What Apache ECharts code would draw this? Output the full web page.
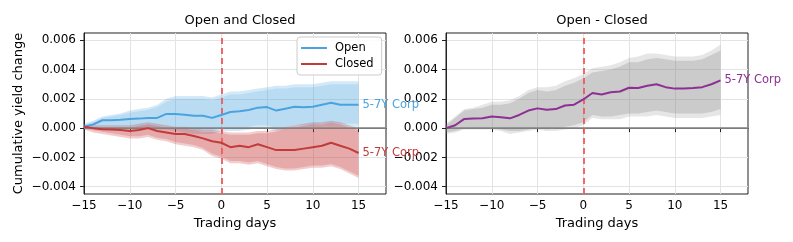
<!DOCTYPE html>
<html><head><meta charset="utf-8">
<script src="https://cdn.jsdelivr.net/npm/echarts@6/dist/echarts.min.js"></script>
<style>html,body{margin:0;padding:0;background:#fff}#c{width:793px;height:242px}</style>
</head><body><div id="c"></div>
<script>
// ---- data ----
const axisDays = [-15,-14,-13,-12,-11,-10,-9,-8,-7,-6,-5,-4,-3,-2,-1,0,1,2,3,4,5,6,7,8,9,10,11,12,13,14,15,16,17,18];
const xTickLabels = [-15,-10,-5,0,5,10,15];
const yTicks = [-0.004,-0.002,0,0.002,0.004,0.006];

const openMean = [0.0001,0.00025,0.00054,0.00054,0.00058,0.00063,0.00065,0.0007,0.0007,0.00097,0.00097,0.00092,0.00085,0.00085,0.0007,0.0009,0.0011,0.00115,0.00124,0.0014,0.00144,0.0012,0.00133,0.00146,0.00142,0.00146,0.0016,0.00173,0.0016,0.0016,0.0016];
const openHi95 = [0.0003,0.0005,0.0008,0.0009,0.0010,0.0012,0.0013,0.0014,0.0016,0.0020,0.0022,0.0022,0.0022,0.0022,0.0021,0.0023,0.0025,0.0025,0.0026,0.0027,0.0028,0.0029,0.0029,0.0030,0.0030,0.0030,0.0031,0.0032,0.0032,0.0032,0.0032];
const openHi90 = [0.00025,0.0004,0.0007,0.0008,0.0009,0.00105,0.00115,0.00125,0.00145,0.0018,0.002,0.002,0.002,0.002,0.0019,0.0021,0.0023,0.0023,0.0024,0.0025,0.0026,0.0027,0.0027,0.0028,0.0028,0.0028,0.0029,0.003,0.003,0.003,0.003];
const openLo95 = [-0.0001,-0.0001,0.0,0.0,0.0,0.0,0.0,0.0,-0.0001,-0.0001,-0.0002,-0.0003,-0.0004,-0.0004,-0.0004,-0.0002,-0.0002,-0.0002,-0.0001,0.0,0.0,-0.0002,-0.0001,0.0,0.0,0.0,0.0001,0.0001,0.0001,0.0001,0.0001];
const openLo90 = [-0.00005,-0.00005,0.0001,0.0001,0.0001,0.0001,0.0001,0.0001,0.0001,0.0001,0.0,-0.0001,-0.0002,-0.0002,-0.0002,0.0,0.0,0.0,0.0001,0.0002,0.0002,0.0,0.0001,0.0002,0.0002,0.0002,0.0003,0.0003,0.0003,0.0003,0.0003];

const closedMean = [0.0001,0.0,-0.00007,-0.0001,-0.00013,-0.0002,-0.00013,0.0,-0.0002,-0.0003,-0.0004,-0.0004,-0.00054,-0.0007,-0.0009,-0.001,-0.0013,-0.0012,-0.0013,-0.0011,-0.0013,-0.0015,-0.0015,-0.0015,-0.0014,-0.0013,-0.0012,-0.001,-0.0012,-0.0014,-0.0017];
const closedHi95 = [0.0002,0.0002,0.0002,0.0002,0.0002,0.0002,0.0003,0.0004,0.0003,0.0002,0.0001,0.0001,0.0,-0.0001,-0.0001,-0.0002,-0.0003,-0.0003,-0.0003,-0.0002,-0.0002,-0.0001,0.0001,0.0002,0.0003,0.0004,0.0004,0.0005,0.0004,0.0002,0.0];
const closedHi90 = [0.0001,0.00005,0.00005,0.00005,0.00005,0.00005,0.00015,0.00025,0.00015,0.00005,-0.00005,-0.00005,-0.00015,-0.00025,-0.00025,-0.00035,-0.00045,-0.00045,-0.00045,-0.00035,-0.00035,-0.00025,-0.00005,0.00005,0.00015,0.00025,0.00025,0.00035,0.00025,0.00005,-0.00015];
const closedLo95 = [-0.0001,-0.0003,-0.0004,-0.0005,-0.0006,-0.0007,-0.0007,-0.0006,-0.0008,-0.0009,-0.0011,-0.0012,-0.0013,-0.0015,-0.0019,-0.0021,-0.0024,-0.0024,-0.0025,-0.0024,-0.0026,-0.0028,-0.0029,-0.0029,-0.0028,-0.0027,-0.0027,-0.0026,-0.0028,-0.0031,-0.0034];
const closedLo90 = [0.0,-0.00015,-0.00025,-0.00035,-0.00045,-0.00055,-0.00055,-0.00045,-0.00065,-0.00075,-0.00095,-0.00105,-0.00115,-0.00135,-0.00175,-0.00195,-0.00225,-0.00225,-0.00235,-0.00225,-0.00245,-0.00265,-0.00275,-0.00275,-0.00265,-0.00255,-0.00255,-0.00245,-0.00265,-0.00295,-0.00325];

const diffMean = [0,0.0002,0.00063,0.00065,0.00067,0.00079,0.00074,0.00067,0.0009,0.0012,0.00135,0.00126,0.0013,0.00155,0.0016,0.00196,0.0024,0.0023,0.00245,0.0025,0.00276,0.00274,0.0029,0.003,0.0028,0.0027,0.0027,0.00274,0.0028,0.003,0.00326];
const diffHi95 = [0.0003,0.0008,0.0013,0.0014,0.0016,0.0018,0.0018,0.0019,0.0022,0.0026,0.0028,0.0028,0.0029,0.0032,0.0034,0.0037,0.0041,0.0042,0.0043,0.0045,0.0048,0.0049,0.0051,0.0051,0.0050,0.0049,0.0049,0.0049,0.0050,0.0053,0.0057];
const diffHi90 = [0.0002,0.0007,0.0012,0.0013,0.0014,0.0016,0.0016,0.0017,0.0020,0.0024,0.0026,0.0025,0.0026,0.0029,0.0031,0.0034,0.0038,0.0039,0.0040,0.0042,0.0045,0.0045,0.0047,0.0048,0.0047,0.0046,0.0046,0.0046,0.0047,0.0050,0.0053];
const diffLo95 = [-0.0004,-0.0003,-0.0001,-0.0001,-0.0001,-0.0001,-0.0002,-0.0004,-0.0003,-0.0002,-0.0001,-0.0002,-0.0002,-0.0001,0.0,0.0002,0.0007,0.0006,0.0006,0.0006,0.0008,0.0008,0.0008,0.0009,0.0008,0.0007,0.0007,0.0007,0.0007,0.0008,0.0009];
const diffLo90 = [-0.0003,-0.0002,0.0,0.0,0.0,0.0,-0.0001,-0.0002,-0.0002,-0.0001,0.0,-0.0001,0.0,0.0001,0.0002,0.0004,0.0009,0.0008,0.0008,0.0009,0.0010,0.0010,0.0011,0.0012,0.0011,0.0010,0.0010,0.0010,0.0010,0.0011,0.0013];

// ---- chart ----
const FONT = 'DejaVu Sans';
const minus = s => String(s).replace('-', '\u2212');

function band(id, ax, lower, upper, color, z) {
  const common = {type:'line', xAxisIndex:ax, yAxisIndex:ax, stack:id, stackStrategy:'all',
    symbol:'none', showSymbol:false, silent:true, lineStyle:{opacity:0, width:0}, z:z, animation:false};
  return [
    Object.assign({name:id+'_lo', data: lower.slice()}, common),
    Object.assign({name:id+'_hi', data: upper.map((u,i)=>u-lower[i]), areaStyle:{color:color, opacity:1}}, common)
  ];
}

function meanLine(name, ax, data, color) {
  return {type:'line', name:name, xAxisIndex:ax, yAxisIndex:ax, data:data, symbol:'none', showSymbol:false,
    lineStyle:{color:color, width:2}, itemStyle:{color:color}, z:5, animation:false,
    endLabel:{show:true, formatter:'5-7Y Corp', color:color, fontFamily:FONT, fontSize:11.5, distance:4}};
}

function refLines(ax) {
  return {type:'line', name:'ref'+ax, xAxisIndex:ax, yAxisIndex:ax, data:[], silent:true, z:4, animation:false,
    markLine:{silent:true, symbol:'none', animation:false, label:{show:false},
      data:[
        {yAxis:0, lineStyle:{color:'#8c8c8c', width:2, type:'solid', opacity:0.85}},
        {xAxis:15, lineStyle:{color:'#f05a5a', width:2, type:[6,4], opacity:0.9}}
      ]}};
}

function xAx(idx) {
  return {type:'category', gridIndex:idx, data:axisDays.map(String), boundaryGap:false,
    axisLine:{show:true, lineStyle:{color:'#222', width:1}},
    axisTick:{show:true, interval:4, length:4, lineStyle:{color:'#222'}},
    axisLabel:{interval:4, color:'#000', fontFamily:FONT, fontSize:12, margin:6, formatter:v=>minus(v)},
    splitLine:{show:true, interval:4, lineStyle:{color:'#e3e3e3', width:1}},
    name:'Trading days', nameLocation:'middle', nameGap:22,
    nameTextStyle:{color:'#000', fontFamily:FONT, fontSize:13}};
}
function yAx(idx, name) {
  return {type:'value', gridIndex:idx, min:-0.0045, max:0.0065, interval:0.0005,
    axisLine:{show:true, lineStyle:{color:'#222', width:1}},
    axisTick:{show:true, length:4, lineStyle:{color:'#222'}, customValues:yTicks},
    axisLabel:{color:'#000', fontFamily:FONT, fontSize:12, margin:8, customValues:yTicks,
      formatter:v=>minus(Number(v).toFixed(3))},
    splitLine:{show:true, lineStyle:{color:'#e3e3e3', width:1}},
    name:name, nameLocation:'middle', nameGap:59,
    nameTextStyle:{color:'#000', fontFamily:FONT, fontSize:13}};
}

const option = {
  backgroundColor:'#fff',
  animation:false,
  textStyle:{fontFamily:FONT},
  title:[
    {text:'Open and Closed', left:235, top:9, textAlign:'center', textStyle:{fontFamily:FONT, fontSize:13, fontWeight:'normal', color:'#000'}},
    {text:'Open - Closed', left:597, top:9, textAlign:'center', textStyle:{fontFamily:FONT, fontSize:13, fontWeight:'normal', color:'#000'}}
  ],
  legend:{data:[{name:'Open', icon:'rect'},{name:'Closed', icon:'rect'}], orient:'vertical', left:297, top:37,
    itemWidth:26, itemHeight:2, itemGap:4, padding:[5,8,5,4],
    backgroundColor:'rgba(255,255,255,0.85)', borderColor:'#cccccc', borderWidth:1, borderRadius:3,
    textStyle:{fontFamily:FONT, fontSize:11.5, color:'#000', padding:[0,0,0,3]}},
  grid:[
    {left:84, top:33, width:302, height:161, show:true, borderColor:'#222', borderWidth:1, backgroundColor:'transparent'},
    {left:446, top:33, width:302, height:161, show:true, borderColor:'#222', borderWidth:1, backgroundColor:'transparent'}
  ],
  xAxis:[xAx(0), xAx(1)],
  yAxis:[yAx(0,'Cumulative yield change'), yAx(1,'')],
  series:[].concat(
    band('openO', 0, openLo95, openHi95, 'rgba(74,163,223,0.24)', 1),
    band('openI', 0, openLo90, openHi90, 'rgba(74,163,223,0.18)', 1),
    band('closedO', 0, closedLo95, closedHi95, 'rgba(200,60,60,0.26)', 2),
    band('closedI', 0, closedLo90, closedHi90, 'rgba(200,60,60,0.24)', 2),
    band('diffO', 1, diffLo95, diffHi95, 'rgba(128,128,128,0.2)', 1),
    band('diffI', 1, diffLo90, diffHi90, 'rgba(128,128,128,0.26)', 1),
    [refLines(0), refLines(1),
     meanLine('Open', 0, openMean, '#4aa3df'),
     meanLine('Closed', 0, closedMean, '#c23b3b'),
     meanLine('Diff', 1, diffMean, '#8e2f94')]
  )
};
const chart = echarts.init(document.getElementById('c'), null, {renderer:'canvas'});
chart.setOption(option);
</script></body></html>
